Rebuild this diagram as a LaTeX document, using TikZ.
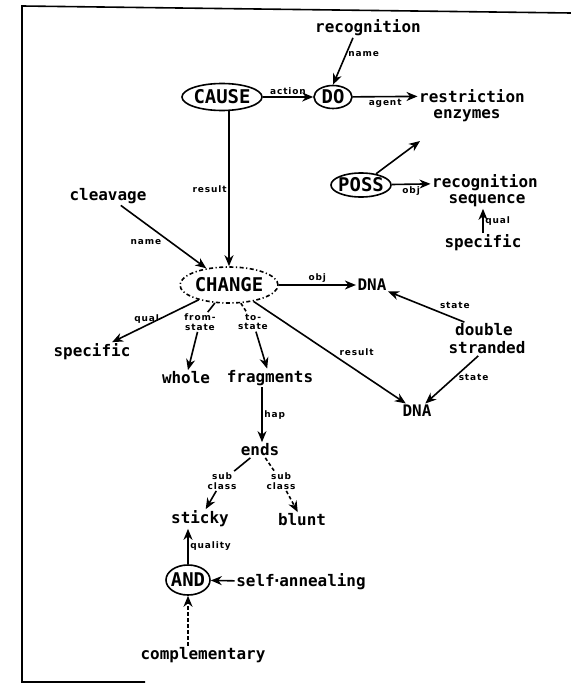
\documentclass[tikz,border=0pt]{standalone}
\usepackage{fontspec}
\setmainfont{DejaVu Sans}
\newfontfamily\nodefont{DejaVu Sans Mono Bold}
\newfontfamily\labfont[LetterSpace=10]{DejaVu Sans Bold}
\usetikzlibrary{arrows.meta,shapes.geometric}
\begin{document}
\begin{tikzpicture}[x=1bp,y=-1bp,
  word/.style={font=\nodefont\fontsize{16}{16}\selectfont, inner sep=1.5bp},
  oval/.style n args={2}{ellipse, draw, line width=1.6bp, inner sep=0pt,
      minimum width=#1, minimum height=#2, font=\nodefont\fontsize{19}{19}\selectfont},
  lab/.style={font=\labfont\fontsize{9}{9.5}\selectfont, inner sep=1.5bp, align=center},
  ln/.style={line width=1.6bp},
  arr/.style={ln, -{Stealth[length=11bp,width=9bp,inset=3.5bp]}},
  dsh/.style={dash pattern=on 3.5bp off 2.5bp},
  frame/.style={line width=1.6bp}
]
\useasboundingbox (0,0) rectangle (571,684);
% frame
\coordinate (f1) at (145,682);
\coordinate (f2) at (22,682);
\coordinate (f3) at (22,6);
\coordinate (f4) at (571,13);
\draw[frame] (f1) -- (f2) -- (f3) -- (f4);

% nodes
\node[word] (recog) at (368,28) {recognition};
\node[oval={80bp}{27bp}] (cause) at (222,97) {\makebox[0pt]{CAUSE}};
\node[oval={38bp}{23bp}] (do) at (333,97) {\makebox[0pt]{DO}};
\node[word] (r1) at (472,96) {restriction};
\node[word] (r2) at (467,116) {enzymes};
\node[oval={60bp}{24bp}] (poss) at (361,185) {\makebox[0pt]{POSS}};
\node[word] (s1) at (485,183) {recognition};
\node[word] (s2) at (487,201) {sequence};
\node[word] (sp1) at (483,243) {specific};
\node[word] (cleav) at (108,196) {cleavage};
\node[oval={98bp}{36bp}, dash pattern=on 4bp off 2.5bp on 1.2bp off 2.5bp] (change) at (229,285) {\makebox[0pt]{CHANGE}};
\node[word] (dna1) at (372,285) {DNA};
\node[word] (ds1) at (484,330) {double};
\node[word] (ds2) at (487,348) {stranded};
\node[word] (dna2) at (417,411) {DNA};
\node[word] (sp2) at (92,352) {specific};
\node[lab] (fs) at (200,322) {from-\\state};
\node[lab] (ts) at (253,322) {to-\\state};
\node[word] (whole) at (186,378) {whole};
\node[word] (frag) at (270,378) {fragments};
\node[word] (ends) at (260,450) {ends};
\node[lab] (sc1) at (222,481) {sub\\class};
\node[lab] (sc2) at (281,481) {sub\\class};
\node[word] (sticky) at (200,519) {sticky};
\node[word] (blunt) at (302,520) {blunt};
\node[oval={44bp}{30bp}] (and) at (188,580) {\makebox[0pt]{AND}};
\node[word] (selfann) at (301,582) {self\kern-2.5bp·\kern-2.5bp annealing};
\node[word] (compl) at (203,655) {complementary};
\coordinate (r2tip) at (420,141);

% connectors
\draw[arr] ([xshift=-15bp]recog.south) -- (do.north) node[lab, pos=0.35, right] {name};
\draw[arr] (cause) -- (do) node[lab, midway, above] {action};
\draw[arr] (do) -- (r1) node[lab, midway, below] {agent};
\draw[arr] (poss) -- (r2tip);
\draw[arr] (poss) -- (s1) node[lab, midway, below] {obj};
\draw[arr] (sp1.north) -- (sp1.north |- s2.south) node[lab, midway, right] {qual};
\draw[arr] (change.north |- cause.south) -- (change.north) node[lab, midway, left] {result};
\draw[arr] (cleav) -- (change) node[lab, midway, below left] {name};
\draw[arr] (change) -- (dna1) node[lab, midway, above] {obj};
\draw[arr] (ds1) -- (dna1) node[lab, pos=0.35, above right] {state};
\draw[arr] (ds2) -- (dna2) node[lab, pos=0.45, right=2bp] {state};
\draw[arr] (change) -- (dna2) node[lab, pos=0.55, above right] {result};
\draw[arr] (change) -- (sp2) node[lab, pos=0.6, above] {qual};
\draw[ln] (change) -- (fs);
\draw[arr] (fs) -- (whole);
\draw[ln, dsh] (change) -- (ts);
\draw[arr] (ts) -- (frag);
\draw[arr] (frag.south -| 262,0) -- (ends.north -| 262,0) node[lab, midway, right] {hap};
\draw[ln] (ends) -- (sc1);
\draw[arr] (sc1) -- (sticky);
\draw[ln, dsh] (ends) -- (sc2);
\draw[arr, dsh] (sc2) -- (blunt);
\draw[arr] (and.north) -- (and.north |- sticky.south) node[lab, midway, right] {quality};
\draw[arr] (selfann) -- (and);
\draw[arr, dsh] (and.south |- compl.north) -- (and.south);
\end{tikzpicture}
\end{document}
